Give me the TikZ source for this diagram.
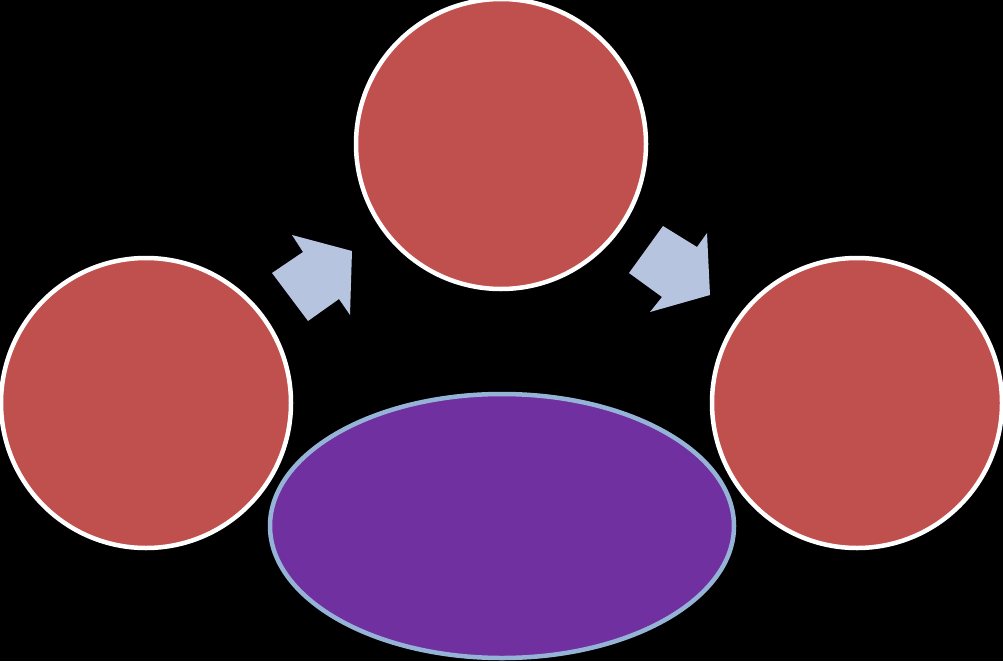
\documentclass[tikz,border=0pt]{standalone}
\usetikzlibrary{shapes.geometric}
\definecolor{cred}{HTML}{C0504D}
\definecolor{cpurple}{HTML}{7030A0}
\definecolor{cblueline}{HTML}{95B3D7}
\definecolor{carrow}{HTML}{B7C4DF}
\tikzset{
  redcircle/.style={circle, draw=white, line width=4.5pt, fill=cred, minimum size=290pt, inner sep=0pt},
  purpleellipse/.style={ellipse, draw=cblueline, line width=4.5pt, fill=cpurple, minimum width=464pt, minimum height=264pt, inner sep=0pt},
  blockarrow/.style={fill=carrow, draw=none}
}
\begin{document}
\begin{tikzpicture}[x=1pt,y=-1pt]
  \fill[black] (0,0) rectangle (1003,661);
  \useasboundingbox (0,0) rectangle (1003,661);
  \node[redcircle] (left) at (146,403) {};
  \node[redcircle] (top) at (501,144) {};
  \node[redcircle] (right) at (857,403) {};
  \node[purpleellipse] (bottom) at (502,526) {};
  \fill[blockarrow] (272,273) -- (303,252) -- (292,235) -- (352,251) -- (350,315) -- (339,299) -- (308,321) -- cycle;
  \fill[blockarrow] (629,273) -- (663,226) -- (697,247) -- (707,233) -- (710,295) -- (650,312) -- (662,297) -- cycle;
\end{tikzpicture}
\end{document}
